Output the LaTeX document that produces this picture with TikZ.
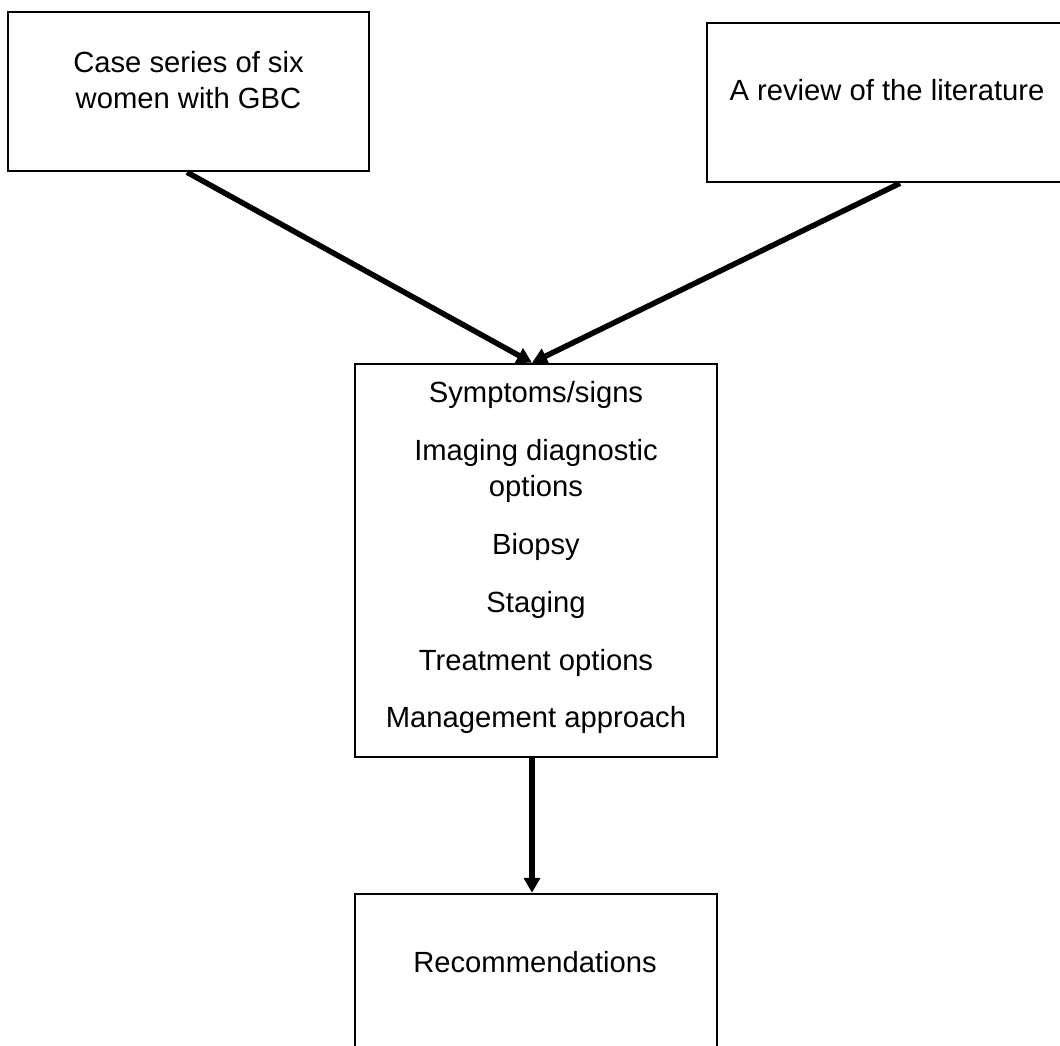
\documentclass[tikz,border=0pt]{standalone}
\usepackage{fontspec}
\setmainfont{Liberation Sans}
\usetikzlibrary{arrows.meta,calc}
\begin{document}
\begin{tikzpicture}[x=1bp,y=-1bp,
  box/.style={draw=black,line width=2.5bp,rectangle,inner sep=0pt},
  txt/.style={anchor=base,inner sep=0pt,font=\fontsize{29.2bp}{36bp}\selectfont},
  link/.style={line width=5.5bp,-{Triangle[length=15bp,width=16bp]}}]
\useasboundingbox (0,0) rectangle (1060,1046);
% boxes
\node[box,minimum width=361bp,minimum height=159bp] (cases) at (188.5,91.5) {};
\node[box,minimum width=357bp,minimum height=159bp] (review) at (885.5,102.5) {};
\node[box,minimum width=362bp,minimum height=393bp] (topics) at (536,560.5) {};
\node[box,minimum width=362bp,minimum height=160bp] (recs) at (536,974) {};
% texts
\node[txt] (c1) at (188.5,72) {Case series of six};
\node[txt] (c2) at (188.5,108) {women with GBC};
\node[txt] (r1) at (887,100) {A review of the literature};
\node[txt] (t1) at (536,402) {Symptoms/signs};
\node[txt] (t2) at (536,460) {Imaging diagnostic};
\node[txt] (t3) at (536,496) {options};
\node[txt] (t4) at (536,554) {Biopsy};
\node[txt] (t5) at (536,612) {Staging};
\node[txt] (t6) at (536,670) {Treatment options};
\node[txt] (t7) at (536,727) {Management approach};
\node[txt] (rc) at (535,972) {Recommendations};
% connectors
\coordinate (tip) at ($(topics.north)+(-4,0)$);
\draw[link] ($(cases.south)+(-1.5,0)$) -- (tip);
\draw[link] ($(review.south)+(14.5,0)$) -- (tip);
\draw[link] ($(topics.south)+(-4,0)$) -- ($(recs.north)+(-4,0)$);
\end{tikzpicture}
\end{document}
